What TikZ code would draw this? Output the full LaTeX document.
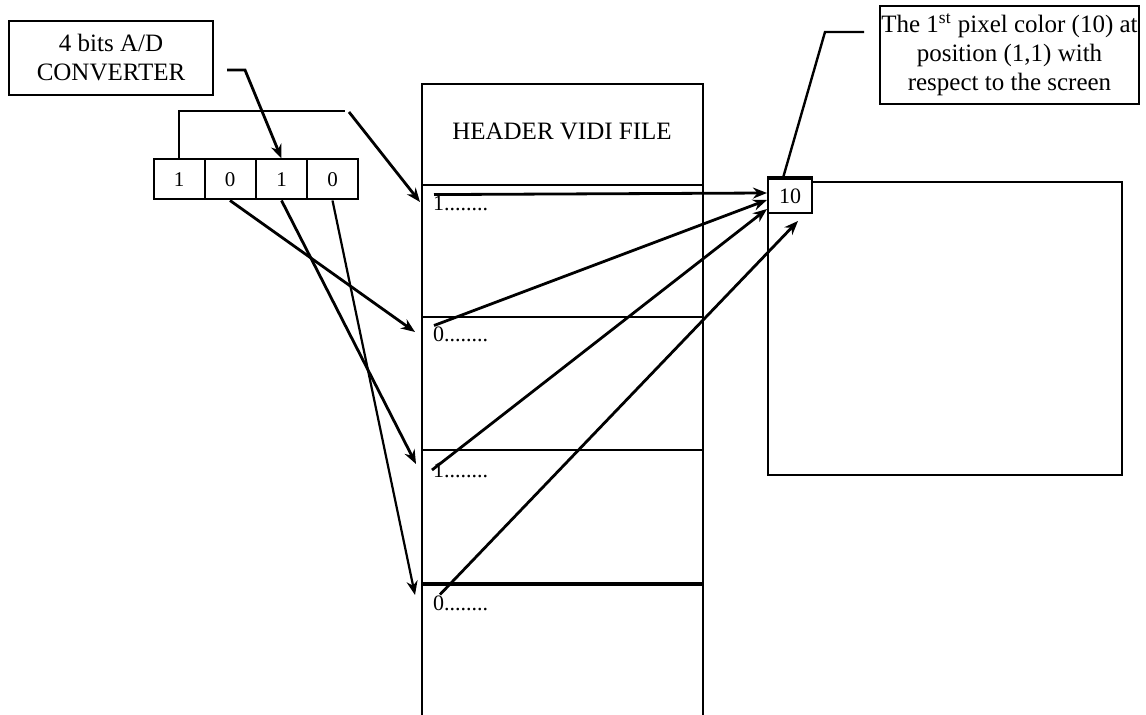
\documentclass[tikz,border=0pt]{standalone}
\usepackage{fontspec}
\setmainfont{Liberation Serif}
\usetikzlibrary{arrows.meta}
\begin{document}
\begin{tikzpicture}[x=0.5pt,y=-0.5pt,>={Stealth[length=7pt,width=5.5pt]},line join=miter,line width=1pt]
	\tikzset{box/.style={draw,line width=1pt,align=center,inner sep=0pt,font=\fontsize{12.5}{14.5}\selectfont},
		cell/.style={draw,minimum width=25.5pt,minimum height=20pt,inner sep=0pt,font=\fontsize{10.5}{12}\selectfont},
		row/.style={anchor=west,inner sep=0pt,font=\fontsize{11}{13}\selectfont},
		wire/.style={line width=1.4pt}}
	\useasboundingbox (0,0) rectangle (1146,715);
	% converter and the four bits
	\node[box,minimum width=102pt,minimum height=37pt] (adc) at (111,58) {4 bits A/D\\CONVERTER};
	\foreach \i/\v/\xx in {1/1/179,2/0/230,3/1/281.5,4/0/332.5}
		\node[cell] (b\i) at (\xx,179.5) {\v};
	% vidi file
	\draw (422,715) |- (703,84) -- (703,715);
	\foreach \yy in {185,317,450}
		\draw (422,\yy) -- (703,\yy);
	\draw[line width=2pt] (422,584) -- (703,584);
	\node[font=\fontsize{12.5}{15}\selectfont] (hdr) at (562,131) {HEADER VIDI FILE};
	\node[row] (r1) at (432,203) {1........};
	\node[row] (r2) at (432,334) {0........};
	\node[row] (r3) at (432,470) {1........};
	\node[row] (r4) at (432,603) {0........};
	% screen
	\draw (768,182) rectangle (1122,475);
	\node[box,fill=white,minimum width=22pt,minimum height=17pt,font=\fontsize{11}{13}\selectfont] (px) at (790,196) {10};
	\draw[line width=2.2pt] (px.north west) -- (px.north east);
	\node[box,minimum width=129.5pt,minimum height=49pt] (note) at (1009.5,55)
		{The 1\textsuperscript{st} pixel color (10) at\\position (1,1) with\\respect to the screen};
	% connectors
	\coordinate (k1) at (245,70);
	\coordinate (k2) at (345,111);
	\coordinate (k3) at (349,112);
	\coordinate (k4) at (825,32);
	\coordinate (t1) at (420,202);
	\coordinate (t2) at (415,332);
	\coordinate (t3) at (416,464);
	\coordinate (t4) at (415,595);
	\draw[wire,->] ([xshift=6.5pt,yshift=-6pt]adc.east) -- (k1) -- (b3.north);
	\draw (b1.north) |- (k2);
	\draw[wire,->] (k3) -- (t1);
	\draw[wire,->] (b2.south) -- (t2);
	\draw[wire,->] (b3.south) -- (t3);
	\draw[line width=1.1pt,->] (b4.south) -- (t4);
	\draw[wire,->] ([xshift=1pt]r1.north west) -- ([yshift=1.5pt]px.west);
	\draw[wire,->] ([xshift=1pt]r2.north west) -- ([yshift=-2pt]px.west);
	\draw[wire,->] (r3.west) -- ([yshift=2.5pt]px.south west);
	\draw[wire,->] ([xshift=4pt]r4.north west) -- ([xshift=4pt,yshift=-3.5pt]px.south);
	\draw[line width=1.2pt] ([xshift=-7.5pt,yshift=11.5pt]note.west) -- (k4) -- ([xshift=-3.5pt]px.north);
\end{tikzpicture}
\end{document}
